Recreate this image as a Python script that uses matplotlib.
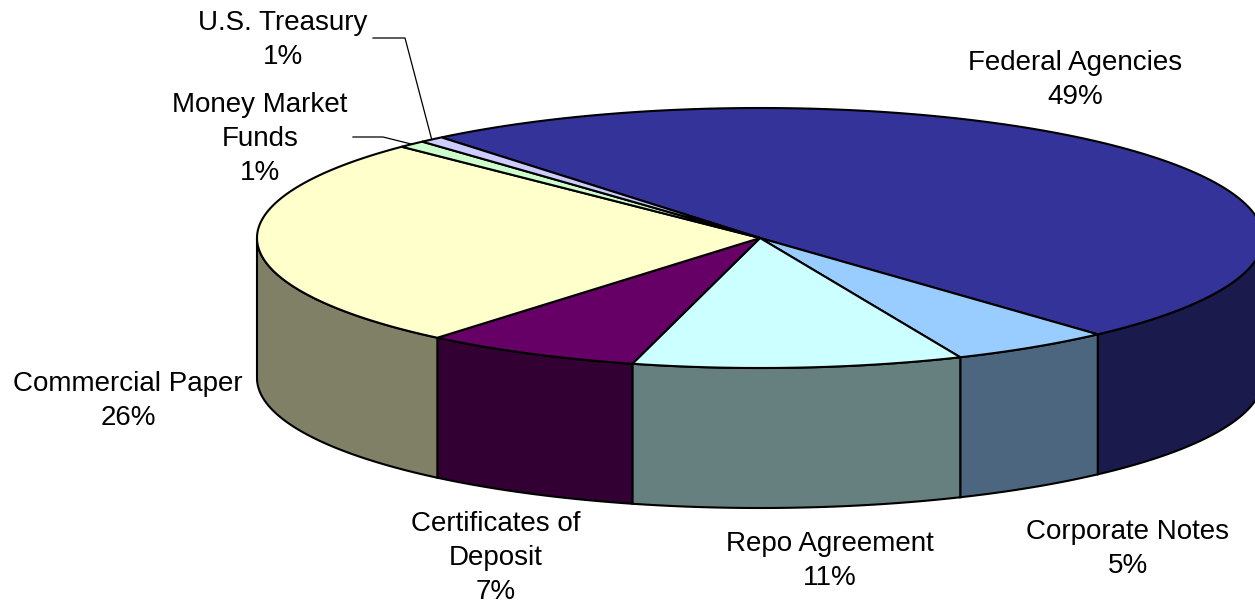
import numpy as np
import matplotlib
matplotlib.use("Agg")
import matplotlib.pyplot as plt
from matplotlib.colors import to_rgb

# data, clockwise from the top-left edge of Federal Agencies
labels = ["Federal Agencies", "Corporate Notes", "Repo Agreement",
          "Certificates of\nDeposit", "Commercial Paper",
          "Money Market\nFunds", "U.S. Treasury"]
values = [49.2, 5.2, 10.6, 7.0, 26.3, 0.9, 0.8]
colors = ["#333399", "#99CCFF", "#CCFFFF", "#660066", "#FFFFCC",
          "#CCFFCC", "#CCCCFF"]

# layout of the 3d pie (pixels)
cx, cy = 760, 238
rx, ry = 503, 130
depth = 140
start = 129.3

# label placement (center of text block) per slice
label_pos = [(1075, 80), (1128, 549), (830, 561), (496, 558),
             (128, 401), (260, 139), (283, 40)]
leader = [None, None, None, None, None, (353, 383), (373, 405)]

fig = plt.figure(figsize=(12.55, 6.03), dpi=100)
ax = fig.add_axes([0, 0, 1, 1])
ax.set_xlim(0, 1255)
ax.set_ylim(603, 0)
ax.axis("off")


def pt(a, dz=0):
    r = np.radians(a)
    return cx + rx * np.cos(r), cy - ry * np.sin(r) + dz


total = float(sum(values))
angles = []
a = start
for v in values:
    b = a - v / total * 360.0
    angles.append((a, b))
    a = b

# side walls (front half only)
for (a1, a2), c in zip(angles, colors):
    side = tuple(0.5 * np.array(to_rgb(c)))
    for k in (-360, 0, 360):
        lo = max(a2, -180 + k)
        hi = min(a1, 0 + k)
        if hi <= lo:
            continue
        t = np.linspace(lo, hi, 80)
        xs, ys = pt(t)
        xb, yb = pt(t[::-1], depth)
        ax.fill(np.r_[xs, xb], np.r_[ys, yb], facecolor=side,
                edgecolor="black", linewidth=1.5, zorder=1)

# top faces
for (a1, a2), c in zip(angles, colors):
    t = np.linspace(a1, a2, 200)
    xs, ys = pt(t)
    ax.fill(np.r_[cx, xs], np.r_[cy, ys], facecolor=c,
            edgecolor="black", linewidth=1.5, zorder=2)

# labels
for i, ((a1, a2), lab, v) in enumerate(zip(angles, labels, values)):
    x, y = label_pos[i]
    ax.text(x, y, f"{lab}\n{v:.0f}%", ha="center", va="center",
            fontsize=20, family="Liberation Sans", linespacing=1.42,
            zorder=5)
    if leader[i] is not None:
        x0, x1 = leader[i]
        px, py = pt((a1 + a2) / 2)
        ax.plot([x0, x1, px], [y - 2, y - 2, py], color="black",
                linewidth=0.9, zorder=4)

fig.savefig("out.png", dpi=100)
